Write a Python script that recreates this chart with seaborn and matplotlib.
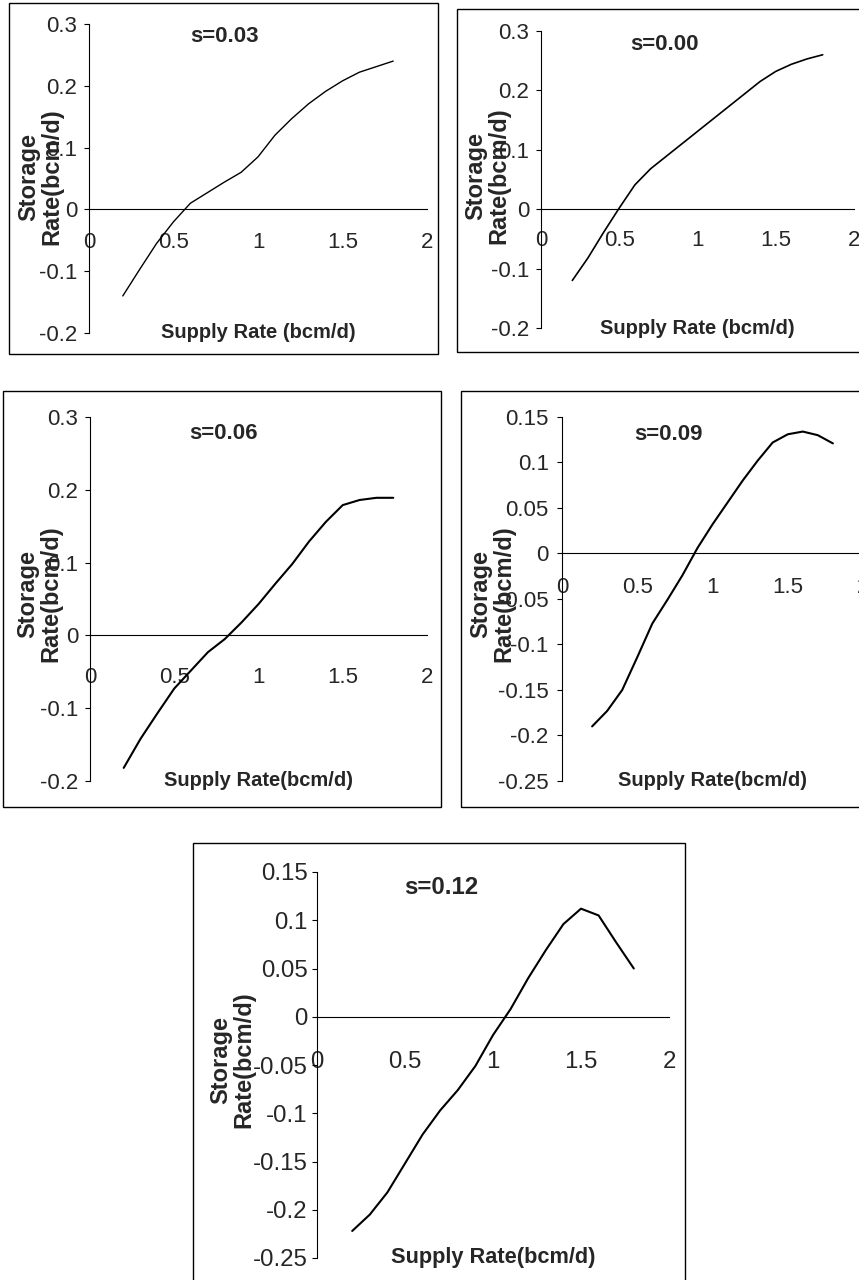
import numpy as np
import pandas as pd
import matplotlib
matplotlib.use('Agg')
import matplotlib.pyplot as plt
from matplotlib.patches import Rectangle
from matplotlib.ticker import FuncFormatter
import seaborn as sns

# Data (supply rate vs storage rate, bcm/d)
supply_rate = [0.2, 0.3, 0.4, 0.5, 0.6, 0.7, 0.8, 0.9, 1.0,
               1.1, 1.2, 1.3, 1.4, 1.5, 1.6, 1.7, 1.8]
storage_s003 = [-0.140, -0.097, -0.055, -0.020, 0.010, 0.027, 0.044, 0.060, 0.085,
                0.120, 0.147, 0.171, 0.191, 0.208, 0.222, 0.231, 0.240]
storage_s000 = [-0.120, -0.082, -0.039, 0.002, 0.041, 0.068, 0.089, 0.110, 0.131,
                0.152, 0.173, 0.194, 0.215, 0.232, 0.244, 0.253, 0.260]
storage_s006 = [-0.182, -0.142, -0.107, -0.073, -0.048, -0.023, -0.005, 0.018, 0.043,
                0.071, 0.098, 0.129, 0.156, 0.179, 0.186, 0.189, 0.189]
storage_s009 = [-0.190, -0.173, -0.150, -0.114, -0.077, -0.051, -0.024, 0.006, 0.032,
                0.056, 0.080, 0.102, 0.122, 0.131, 0.134, 0.130, 0.121]
storage_s012 = [-0.222, -0.205, -0.182, -0.152, -0.122, -0.097, -0.076, -0.051, -0.019,
                0.008, 0.040, 0.069, 0.096, 0.112, 0.105, 0.077, 0.050]

titles = ['s=0.03', 's=0.00', 's=0.06', 's=0.09', 's=0.12']
x_ticks = [0, 0.5, 1, 1.5, 2]
y_ticks_coarse = [-0.2, -0.1, 0, 0.1, 0.2, 0.3]
y_ticks_fine = [-0.25, -0.2, -0.15, -0.1, -0.05, 0, 0.05, 0.1, 0.15]
x_label_a = 'Supply Rate (bcm/d)'
x_label_b = 'Supply Rate(bcm/d)'
y_label = 'Storage\nRate(bcm/d)'

sns.set_style('white')
plt.rcParams['font.family'] = ['Liberation Sans', 'DejaVu Sans']
plt.rcParams['axes.unicode_minus'] = False

fig = plt.figure(figsize=(8.59, 12.8), dpi=100)
W, H = 859.0, 1280.0


def fig_rect(x0, y0, x1, y1):
    # pixel box (top-left origin) -> figure fraction rect
    return [x0 / W, 1 - y1 / H, (x1 - x0) / W, (y1 - y0) / H]


def fmt(v, pos):
    v = round(v, 2)
    if v == 0:
        return '0'
    return f'{v:g}'


# layout: axes box, frame box, title pos, ylabel coords, x pad, y pad, font scale, line width
panels = [
    dict(y=storage_s003, title=titles[0], xl=x_label_a, yt=y_ticks_coarse,
         ax=(89, 24, 427, 333), frame=(9, 3, 438, 354), tpos=(0.40, 0.958),
         ylc=(-0.077, 0.505), xpad=16, ypad=5, fs=1.0, lw=1.0),
    dict(y=storage_s000, title=titles[1], xl=x_label_a, yt=y_ticks_coarse,
         ax=(541, 31, 854, 328), frame=(457, 9, 875, 352), tpos=(0.393, 0.953),
         ylc=(-0.099, 0.512), xpad=15, ypad=5, fs=1.0, lw=1.2),
    dict(y=storage_s006, title=titles[2], xl=x_label_b, yt=y_ticks_coarse,
         ax=(90, 417, 427, 781), frame=(3, 391, 441, 807), tpos=(0.395, 0.956),
         ylc=(-0.083, 0.514), xpad=23, ypad=5, fs=1.0, lw=1.5),
    dict(y=storage_s009, title=titles[3], xl=x_label_b, yt=y_ticks_fine,
         ax=(562, 417, 863, 781), frame=(461, 391, 875, 807), tpos=(0.355, 0.951),
         ylc=(-0.156, 0.514), xpad=17, ypad=6, fs=1.0, lw=1.5),
    dict(y=storage_s012, title=titles[4], xl=x_label_b, yt=y_ticks_fine,
         ax=(317, 872, 669, 1258), frame=(193, 843, 685, 1295), tpos=(0.352, 0.959),
         ylc=(-0.176, 0.513), xpad=25, ypad=3, fs=1.08, lw=1.5),
]

for p in panels:
    ax = fig.add_axes(fig_rect(*p['ax']))
    ax.set_facecolor('none')
    df = pd.DataFrame({'supply': supply_rate, 'storage': p['y']})
    sns.lineplot(data=df, x='supply', y='storage', ax=ax, color='black', linewidth=p['lw'])

    ax.set_xlim(0, 2)
    ax.set_ylim(p['yt'][0], p['yt'][-1])
    ax.set_xticks(x_ticks)
    ax.set_yticks(p['yt'])
    ax.xaxis.set_major_formatter(FuncFormatter(fmt))
    ax.yaxis.set_major_formatter(FuncFormatter(fmt))

    # Excel style: x axis crosses at y=0
    ax.spines['top'].set_visible(False)
    ax.spines['right'].set_visible(False)
    ax.spines['bottom'].set_position(('data', 0))
    for s in ['bottom', 'left']:
        ax.spines[s].set_color('black')
        ax.spines[s].set_linewidth(0.8)

    fs = p['fs']
    ax.tick_params(axis='x', direction='in', length=3.6, width=0.8, color='black',
                   pad=p['xpad'], labelsize=16 * fs)
    ax.tick_params(axis='y', direction='out', length=3.6, width=0.8, color='black',
                   pad=p['ypad'], labelsize=16 * fs, left=True)

    ax.set_xlabel(p['xl'], fontsize=14.5 * fs, fontweight='bold')
    ax.xaxis.set_label_coords(0.5, 0.0)
    ax.xaxis.label.set_va('center')

    ax.set_ylabel(y_label, fontsize=17, fontweight='bold', linespacing=1.0)
    ax.yaxis.set_label_coords(*p['ylc'])

    ax.text(p['tpos'][0], p['tpos'][1], p['title'], transform=ax.transAxes,
            ha='center', va='center', fontsize=16 * fs, fontweight='bold')

    # chart frame
    fr = fig_rect(*p['frame'])
    fig.add_artist(Rectangle(fr[:2], fr[2], fr[3], transform=fig.transFigure,
                             fill=False, edgecolor='black', linewidth=1.0))

fig.savefig('out.png', dpi=100)
